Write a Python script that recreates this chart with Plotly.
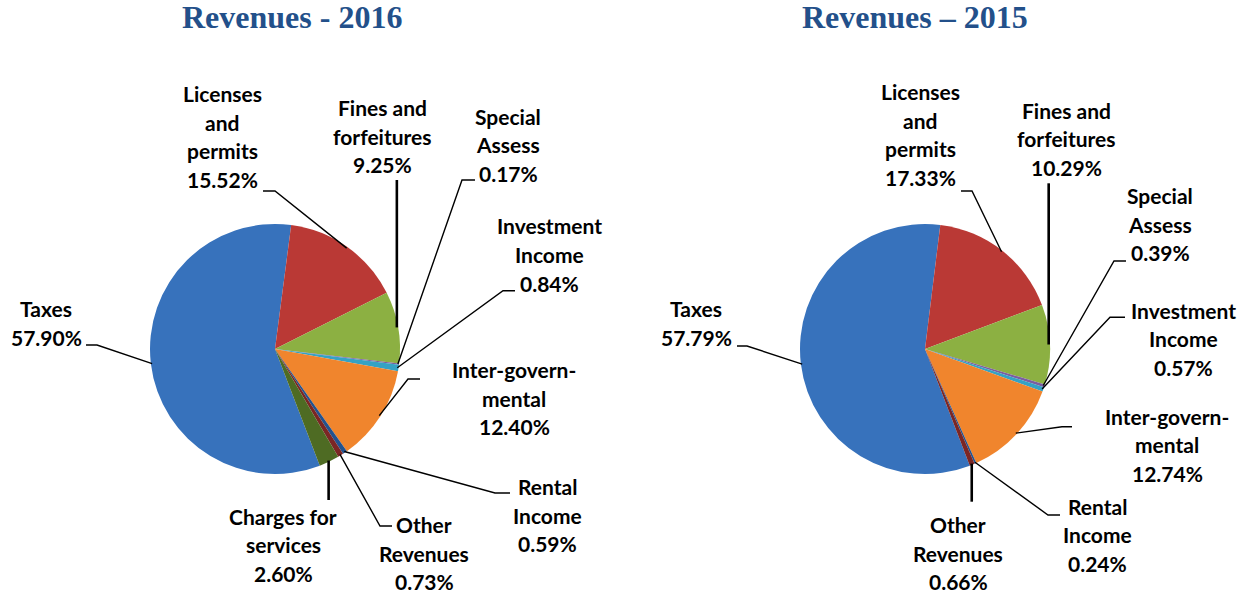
import math
import plotly.graph_objects as go

W, H = 1253, 596

# ---------------- data ----------------
categories = ["Taxes", "Licenses and permits", "Fines and forfeitures", "Special Assess",
              "Investment Income", "Inter-governmental", "Rental Income", "Other Revenues",
              "Charges for services"]
label_names = [["Taxes"], ["Licenses", "and", "permits"], ["Fines and", "forfeitures"],
               ["Special", "Assess"], ["Investment", "Income"], ["Inter-govern-", "mental"],
               ["Rental", "Income"], ["Other", "Revenues"], ["Charges for", "services"]]
values_2016 = [57.90, 15.52, 9.25, 0.17, 0.84, 12.40, 0.59, 0.73, 2.60]
values_2015 = [57.79, 17.33, 10.29, 0.39, 0.57, 12.74, 0.24, 0.66, 0.00]
titles = ["Revenues - 2016", "Revenues \u2013 2015"]

# ---------------- style / layout ----------------
colors = ["#3772BC", "#BA3935", "#8CB042", "#7B5EA0", "#35A2C4",
          "#F0852D", "#23528E", "#7B2624", "#4E6B23"]
FIRST_SLICE_ANGLE = 159
PIE_R = 125
PIE_CENTERS = [(275, 349), (925, 349)]
TITLE_POS = [(292, 17), (915, 17)]
LINE_GAP = 28.7
LABEL_FONT = dict(family="Lato", size=21, color="#000000", weight=700)
TITLE_FONT = dict(family="Liberation Serif", size=32, color="#23508A", weight=700)

# label placement: index -> (text centre x, first line y, leader spec)
# leader spec: list of points from label side, or ("V", y_start) for a vertical leader
label_layout_2016 = {
    0: (46, 309, [(86, 345), (97, 345)]),
    1: (222, 93.5, [(263, 191), (275, 191)]),
    2: (382, 107.5, ("V", 180)),
    3: (508, 116, [(475, 180), (462, 180)]),
    4: (549, 226, [(515, 290.7), (503, 290.7)]),
    5: (514, 369.5, [(420, 379), (408, 379)]),
    6: (547, 486.5, [(510, 493), (495, 493)]),
    7: (424, 524.5, [(392, 526), (380, 526)]),
    8: (283, 516, ("V", 500)),
}
label_layout_2015 = {
    0: (696, 309, [(737, 346), (747, 346)]),
    1: (920, 91.5, [(961, 191), (972, 191)]),
    2: (1066, 110, ("V", 183.3)),
    3: (1160, 195.5, [(1126, 261), (1114, 261)]),
    4: (1183, 310, [(1125, 317.3), (1110, 317.3)]),
    5: (1167, 416, [(1072, 426.7), (1062, 426.7)]),
    6: (1097, 506, [(1060, 515), (1048, 515)]),
    7: (958, 524.5, ("V", 501.7)),
}


def px(x):
    return x / W


def py(y):
    return 1 - y / H


fig = go.Figure()
annotations = []
shapes = []

for k, (vals, layout_map) in enumerate([(values_2016, label_layout_2016),
                                        (values_2015, label_layout_2015)]):
    cx, cy = PIE_CENTERS[k]
    fig.add_trace(go.Pie(
        labels=categories, values=vals, sort=False, direction="clockwise",
        rotation=FIRST_SLICE_ANGLE, textinfo="none", showlegend=False,
        marker=dict(colors=colors, line=dict(width=0)),
        domain=dict(x=[px(cx - PIE_R), px(cx + PIE_R)],
                    y=[py(cy + PIE_R), py(cy - PIE_R)]),
        name=titles[k],
    ))
    tx, ty = TITLE_POS[k]
    annotations.append(dict(text=titles[k], x=px(tx), y=py(ty), xref="paper", yref="paper",
                            showarrow=False, font=TITLE_FONT, xanchor="center", yanchor="middle"))
    total = sum(vals)
    cum = 0.0
    for i, v in enumerate(vals):
        mid = math.radians(FIRST_SLICE_ANGLE + 360.0 * (cum + v / 2.0) / total)
        cum += v
        if v <= 0 or i not in layout_map:
            continue
        ex = cx + PIE_R * 0.99 * math.sin(mid)
        ey = cy - PIE_R * 0.99 * math.cos(mid)
        lx, ly, lead = layout_map[i]
        lines = label_names[i] + [f"{v:.2f}%"]
        for j, t in enumerate(lines):
            annotations.append(dict(text=t, x=px(lx), y=py(ly + j * LINE_GAP),
                                    xref="paper", yref="paper", showarrow=False,
                                    font=LABEL_FONT, xanchor="center", yanchor="middle"))
        if isinstance(lead, tuple) and lead[0] == "V":
            pts = [(ex, lead[1]), (ex, ey)]
            width = 2.6
        else:
            pts = list(lead) + [(ex, ey)]
            width = 1.4
        path = "M " + " L ".join(f"{px(a):.5f},{py(b):.5f}" for a, b in pts)
        shapes.append(dict(type="path", path=path, xref="paper", yref="paper",
                           line=dict(color="#000000", width=width)))

fig.update_layout(
    width=W, height=H, margin=dict(l=0, r=0, t=0, b=0),
    paper_bgcolor="#FFFFFF", plot_bgcolor="#FFFFFF",
    annotations=annotations, shapes=shapes, showlegend=False,
)

fig.write_html("out.html", config={"displayModeBar": False},
               post_script="document.body.style.margin='0';document.body.style.overflow='hidden';")
